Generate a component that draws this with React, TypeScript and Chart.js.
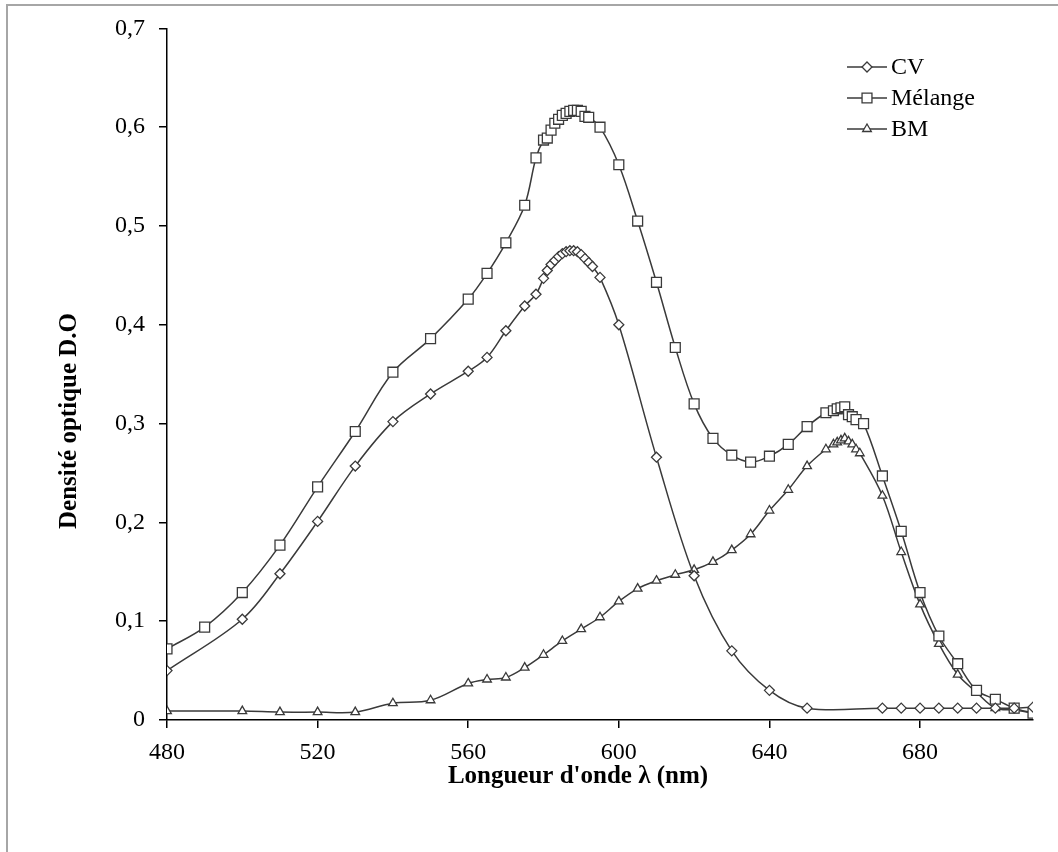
import React, { useEffect, useRef } from "react";
import { Chart, registerables } from "chart.js";

Chart.register(...registerables);

const cvWavelengths = [480, 500, 510, 520, 530, 540, 550, 560, 565, 570, 575, 578, 580, 581, 582, 583, 584, 585, 586, 587, 588, 589, 590, 591, 592, 593, 595, 600, 610, 620, 630, 640, 650, 670, 675, 680, 685, 690, 695, 700, 705, 710];
const cvValues = [0.050, 0.102, 0.148, 0.201, 0.257, 0.302, 0.330, 0.353, 0.367, 0.394, 0.419, 0.431, 0.447, 0.455, 0.461, 0.465, 0.469, 0.472, 0.474, 0.475, 0.475, 0.474, 0.471, 0.467, 0.463, 0.459, 0.448, 0.400, 0.266, 0.146, 0.070, 0.030, 0.012, 0.012, 0.012, 0.012, 0.012, 0.012, 0.012, 0.012, 0.012, 0.013];

const melWavelengths = [480, 490, 500, 510, 520, 530, 540, 550, 560, 565, 570, 575, 578, 580, 581, 582, 583, 584, 585, 586, 587, 588, 589, 590, 591, 592, 595, 600, 605, 610, 615, 620, 625, 630, 635, 640, 645, 650, 655, 657, 658, 659, 660, 661, 662, 663, 665, 670, 675, 680, 685, 690, 695, 700, 705, 710];
const melValues = [0.072, 0.094, 0.129, 0.177, 0.236, 0.292, 0.352, 0.386, 0.426, 0.452, 0.483, 0.521, 0.569, 0.587, 0.589, 0.597, 0.604, 0.608, 0.612, 0.614, 0.616, 0.617, 0.617, 0.616, 0.611, 0.610, 0.600, 0.562, 0.505, 0.443, 0.377, 0.320, 0.285, 0.268, 0.261, 0.267, 0.279, 0.297, 0.311, 0.313, 0.315, 0.316, 0.317, 0.309, 0.307, 0.304, 0.300, 0.247, 0.191, 0.129, 0.085, 0.057, 0.030, 0.021, 0.012, 0.007];

const bmWavelengths = [480, 500, 510, 520, 530, 540, 550, 560, 565, 570, 575, 580, 585, 590, 595, 600, 605, 610, 615, 620, 625, 630, 635, 640, 645, 650, 655, 657, 658, 659, 660, 661, 662, 663, 664, 670, 675, 680, 685, 690, 695, 700, 705, 710];
const bmValues = [0.009, 0.009, 0.008, 0.008, 0.008, 0.017, 0.020, 0.037, 0.041, 0.043, 0.053, 0.066, 0.080, 0.092, 0.104, 0.120, 0.133, 0.141, 0.147, 0.152, 0.160, 0.172, 0.188, 0.212, 0.233, 0.257, 0.274, 0.279, 0.281, 0.283, 0.285, 0.282, 0.279, 0.274, 0.270, 0.227, 0.170, 0.117, 0.077, 0.046, 0.028, 0.012, 0.010, 0.007];

const seriesNames = ["CV", "Mélange", "BM"];
const xTitle = "Longueur d'onde λ (nm)";
const yTitle = "Densité optique D.O";

const FONT = "'Liberation Serif', 'Times New Roman', serif";
const LINE = "#3a3a3a";
const MARK = "#3a3a3a";

const toPoints = (xs: number[], ys: number[]) => xs.map((x, i) => ({ x, y: ys[i] }));

function drawMarker(ctx: CanvasRenderingContext2D, style: string, r: number, x: number, y: number) {
  ctx.beginPath();
  if (style === "rectRot") {
    ctx.moveTo(x, y - r);
    ctx.lineTo(x + r, y);
    ctx.lineTo(x, y + r);
    ctx.lineTo(x - r, y);
    ctx.closePath();
  } else if (style === "rect") {
    const s = Math.SQRT1_2 * r;
    ctx.rect(x - s, y - s, 2 * s, 2 * s);
  } else {
    const w = r * Math.sin(Math.PI / 3);
    ctx.moveTo(x, y - r);
    ctx.lineTo(x + w, y + r / 2);
    ctx.lineTo(x - w, y + r / 2);
    ctx.closePath();
  }
  ctx.lineWidth = 1.3;
  ctx.fill();
  ctx.stroke();
}

const overlayPlugin = {
  id: "overlay",
  afterDraw(chart: any) {
    const ctx = chart.ctx as CanvasRenderingContext2D;
    const area = chart.chartArea;
    ctx.save();
    ctx.fillStyle = "#000";
    ctx.font = `bold 25px ${FONT}`;
    ctx.textAlign = "center";
    ctx.textBaseline = "middle";
    ctx.fillText(xTitle, 578, 777);
    ctx.save();
    ctx.translate(70, 421);
    ctx.rotate(-Math.PI / 2);
    ctx.fillText(yTitle, 0, 0);
    ctx.restore();
    const lx1 = area.right - 186;
    const lx2 = lx1 + 40;
    const ly0 = 67;
    chart.data.datasets.forEach((ds: any, i: number) => {
      const y = ly0 + i * 31;
      ctx.strokeStyle = LINE;
      ctx.lineWidth = 1.5;
      ctx.beginPath();
      ctx.moveTo(lx1, y);
      ctx.lineTo(lx2, y);
      ctx.stroke();
      ctx.fillStyle = "#fff";
      ctx.strokeStyle = MARK;
      drawMarker(ctx, ds.pointStyle, ds.pointRadius, (lx1 + lx2) / 2, y);
      ctx.fillStyle = "#000";
      ctx.font = `24px ${FONT}`;
      ctx.textAlign = "left";
      ctx.textBaseline = "middle";
      ctx.fillText(ds.label, lx2 + 4, y + 1);
    });
    ctx.restore();
  },
};

export default function App() {
  const ref = useRef<HTMLCanvasElement | null>(null);
  useEffect(() => {
    if (!ref.current) return;
    const common = {
      borderColor: LINE,
      borderWidth: 1.5,
      pointBackgroundColor: "#fff",
      pointBorderColor: MARK,
      pointBorderWidth: 1.3,
      tension: 0.35,
      fill: false,
      showLine: true,
    };
    const chart = new Chart(ref.current, {
      type: "scatter",
      data: {
        datasets: [
          { ...common, label: seriesNames[0], data: toPoints(cvWavelengths, cvValues), pointStyle: "rectRot", pointRadius: 5 },
          { ...common, label: seriesNames[1], data: toPoints(melWavelengths, melValues), pointStyle: "rect", pointRadius: 7 },
          { ...common, label: seriesNames[2], data: toPoints(bmWavelengths, bmValues), pointStyle: "triangle", pointRadius: 5 },
        ],
      },
      options: {
        animation: false,
        responsive: false,
        maintainAspectRatio: false,
        layout: { padding: { left: 0, right: 25, top: 21, bottom: 0 } },
        plugins: { legend: { display: false }, tooltip: { enabled: false }, title: { display: false } },
        scales: {
          x: {
            type: "linear",
            min: 480,
            max: 710,
            afterFit: (s: any) => { s.height = 132; },
            ticks: { stepSize: 40, includeBounds: false, color: "#000", font: { family: FONT, size: 24 }, padding: 10, maxRotation: 0 },
            grid: { drawOnChartArea: false, drawTicks: true, tickLength: 8, color: "#000", lineWidth: 1.5 },
            border: { display: true, color: "#000", width: 1.5 },
            title: { display: false },
          },
          y: {
            type: "linear",
            min: 0,
            max: 0.7,
            afterFit: (s: any) => { s.width = 167; },
            ticks: {
              stepSize: 0.1,
              color: "#000",
              font: { family: FONT, size: 24 },
              padding: 14,
              callback: (v: any) => (Number(v) === 0 ? "0" : Number(v).toFixed(1).replace(".", ",")),
            },
            grid: { drawOnChartArea: false, drawTicks: true, tickLength: 8, color: "#000", lineWidth: 1.5 },
            border: { display: true, color: "#000", width: 1.5 },
            title: { display: false },
          },
        },
      },
      plugins: [overlayPlugin],
    } as any);
    return () => chart.destroy();
  }, []);
  return (
    <div style={{ position: "absolute", left: 0, top: 0, width: 1058, height: 852, background: "#fff" }}>
      <div style={{ position: "absolute", left: 6, top: 4, right: 0, bottom: 0, borderLeft: "2px solid #a6a6a6", borderTop: "2px solid #a6a6a6" }} />
      <canvas ref={ref} width={1058} height={852} style={{ position: "absolute", left: 0, top: 0, width: 1058, height: 852 }} />
    </div>
  );
}
